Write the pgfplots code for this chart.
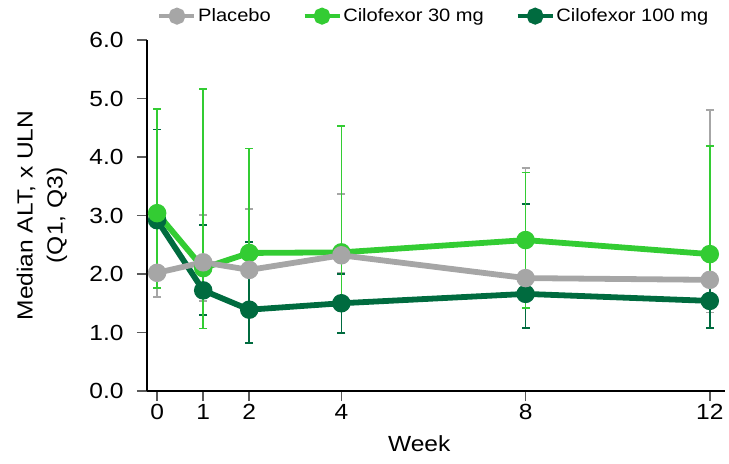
\documentclass[border=0pt]{standalone}
\usepackage{pgfplots}
\usepackage{pgfplotstable}
\pgfplotsset{compat=1.18}
\usepackage{fontspec}
\setmainfont{Liberation Sans}[FakeStretch=1.12]
\definecolor{pbo}{HTML}{A6A6A6}
\definecolor{cA}{HTML}{33CC33}
\definecolor{cB}{HTML}{006B3F}

\pgfplotstableread{
w med q1 q3
0 2.02 1.61 2.95
1 2.20 1.54 3.01
2 2.07 1.42 3.11
4 2.32 2.03 3.37
8 1.93 1.68 3.81
12 1.90 1.34 4.80
}\pbotab
\pgfplotstableread{
w med q1 q3
0 3.04 1.76 4.82
1 2.10 1.07 5.16
2 2.36 2.05 4.15
4 2.37 1.61 4.53
8 2.58 1.42 3.74
12 2.34 1.92 4.19
}\atab
\pgfplotstableread{
w med q1 q3
0 2.92 2.02 4.47
1 1.72 1.30 2.84
2 1.39 0.82 2.55
4 1.50 0.99 2.00
8 1.66 1.08 3.20
12 1.54 1.08 2.30
}\btab

\begin{document}
\begin{tikzpicture}
\begin{axis}[name=a, scale only axis, width=578bp, height=351bp,
  xmin=-0.22, xmax=12.33, ymin=0, ymax=6,
  axis x line*=bottom, axis y line*=left,
  axis line style={line width=2bp, black, -},
  xtick={0,1,2,4,8,12}, ytick={0,1,2,3,4,5,6},
  yticklabel style={xshift=-10bp, /pgf/number format/.cd, fixed, fixed zerofill, precision=1},
  /pgf/number format/assume math mode=true,
  tick align=outside, major tick length=10bp,
  xtick style={line width=1.5bp, draw=black!65},
  ytick style={line width=1.5bp, draw=black!65},
  ticklabel style={font=\fontsize{22}{26}\selectfont, text=black},
  xlabel={Week},
  xlabel style={at={(rel axis cs:0.471,-0.171)}, anchor=base, font=\fontsize{22}{26}\selectfont},
  ylabel={Median ALT, x ULN\\(Q1, Q3)},
  ylabel style={at={(rel axis cs:-0.1817,0.5)}, anchor=center, align=center, font=\fontsize{22}{30}\selectfont},
  legend columns=3, reverse legend,
  legend style={draw=none, fill=none, at={(rel axis cs:0.4965,1.068)}, anchor=center,
    font=\fontsize{18}{20}\selectfont,
    /tikz/every even column/.append style={column sep=30bp}},
  legend cell align=left,
  legend image code/.code={\draw[#1, line width=3.5bp, mark=none] (0bp,0bp) -- (35bp,0bp);
    \fill[#1, mark=none] (17.5bp,0bp) circle (5.5bp);},
]
% error bars (Q1, Q3)
\addplot[pbo, only marks, mark=none, forget plot,
  error bars/.cd, y dir=both, y explicit,
  error bar style={line width=1.6bp, solid, draw=pbo},
  error mark options={rotate=90, mark size=4bp, line width=1.4bp, draw=pbo}]
  table[x=w, y=med, y error plus expr=\thisrow{q3}-\thisrow{med}, y error minus expr=\thisrow{med}-\thisrow{q1}] {\pbotab};
\addplot[cB, only marks, mark=none, forget plot,
  error bars/.cd, y dir=both, y explicit,
  error bar style={line width=1.6bp, solid, draw=cB},
  error mark options={rotate=90, mark size=4bp, line width=1.4bp, draw=cB}]
  table[x=w, y=med, y error plus expr=\thisrow{q3}-\thisrow{med}, y error minus expr=\thisrow{med}-\thisrow{q1}] {\btab};
\addplot[cA, only marks, mark=none, forget plot,
  error bars/.cd, y dir=both, y explicit,
  error bar style={line width=1.6bp, solid, draw=cA},
  error mark options={rotate=90, mark size=4bp, line width=1.4bp, draw=cA}]
  table[x=w, y=med, y error plus expr=\thisrow{q3}-\thisrow{med}, y error minus expr=\thisrow{med}-\thisrow{q1}] {\atab};
% median lines
\addplot[color=cB, line width=5.8bp, mark=*, mark size=6.3bp, mark options={solid, fill=cB, draw=none}]
  table[x=w, y=med] {\btab};
\addlegendentry{Cilofexor 100 mg}
\addplot[color=cA, line width=5.8bp, mark=*, mark size=6.3bp, mark options={solid, fill=cA, draw=none}]
  table[x=w, y=med] {\atab};
\addlegendentry{Cilofexor 30 mg}
\addplot[color=pbo, line width=5.8bp, mark=*, mark size=6.3bp, mark options={solid, fill=pbo, draw=none}]
  table[x=w, y=med] {\pbotab};
\addlegendentry{Placebo}
\end{axis}
\pgfresetboundingbox
\path[use as bounding box] ([shift={(-147bp,-73bp)}]a.south west) rectangle ([shift={(4bp,40bp)}]a.north east);
\end{tikzpicture}
\end{document}
